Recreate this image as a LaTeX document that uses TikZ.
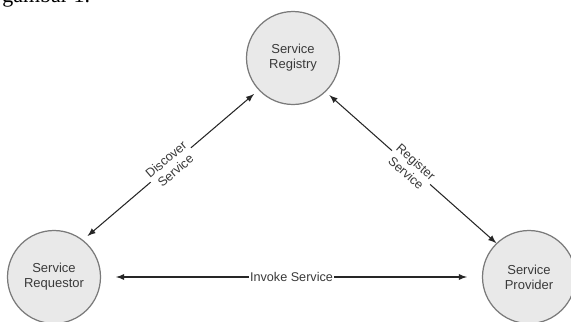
\documentclass[tikz,border=0pt]{standalone}
\usepackage{fontspec}
\setmainfont{Liberation Sans}
\newfontfamily\captionfont{Liberation Serif}
\usepackage{tikz}
\usetikzlibrary{arrows,positioning,calc}
\definecolor{circlefill}{HTML}{E9E9E9}
\definecolor{circledraw}{HTML}{7A7A7A}
\definecolor{textgray}{HTML}{3A3A3A}
\tikzstyle{service}=[draw=circledraw,fill=circlefill,circle,line width=0.7pt,minimum size=1.86cm,inner sep=0pt,align=center,text=textgray,font=\fontsize{7.4}{8.6}\selectfont]
\tikzstyle{link}=[latex-latex,line width=0.6pt,black!85]
\tikzstyle{linklabel}=[fill=white,inner sep=1pt,align=center,text=textgray,font=\fontsize{7.2}{8.4}\selectfont]

\begin{document}
\begin{tikzpicture}[x=0.02cm,y=-0.02cm]
\useasboundingbox (0,0) rectangle (571,321);
\clip (0,0) rectangle (571,321);
\node [anchor=base west,inner sep=0pt,font=\captionfont\fontsize{12.5}{14}\selectfont] (caption) at (2,3) {gambar 1.};
\node [service] (registry) at (293,58) {Service\\Registry};
\node [service] (requestor) at (54,277) {Service\\Requestor};
\node [service] (provider) at (529,277) {Service\\Provider};
\draw [link,shorten <=0.12cm,shorten >=0.12cm] (requestor.52) -- node [linklabel,sloped] {Discover\\Service} (registry.223);
\draw [link,shorten <=0.1cm] (registry.-46) -- node [linklabel,sloped] {Register\\Service} (provider.134);
\draw [link,shorten <=0.3cm,shorten >=0.3cm] (requestor.east) -- node [linklabel,inner sep=0.5pt] {Invoke Service} (provider.west);
\end{tikzpicture}
\end{document}
